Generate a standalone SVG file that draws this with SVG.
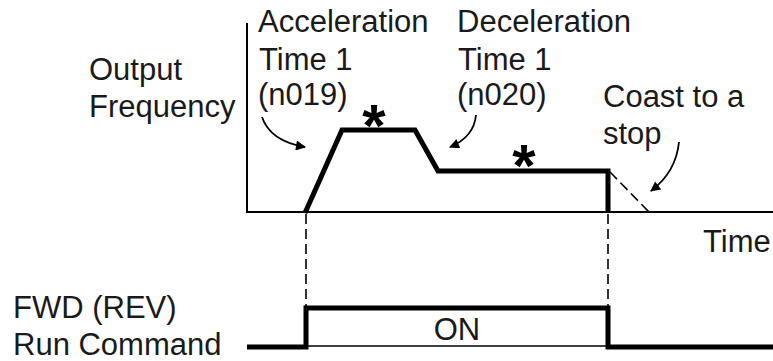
<svg xmlns="http://www.w3.org/2000/svg" width="773" height="361" viewBox="0 0 773 361">
  <style>
    .t { font-family: "Liberation Sans", Arial, Helvetica, sans-serif; font-size: 31px; fill: #1a1a1a; }
    .ast { font-family: "Liberation Sans", Arial, sans-serif; font-size: 60px; font-weight: bold; fill: #000; text-anchor: middle; }
    .axis { stroke: #000; stroke-width: 2; fill: none; }
    .wave { stroke: #000; stroke-width: 5; fill: none; stroke-linejoin: miter; }
    .thin { stroke: #000; stroke-width: 1.5; fill: none; }
    .dash { stroke: #000; stroke-width: 1.6; fill: none; stroke-dasharray: 10 5; }
    .arr { stroke: #000; stroke-width: 1.8; fill: none; marker-end: url(#ah); }
  </style>
  <defs>
    <marker id="ah" viewBox="0 0 10 10" refX="9" refY="5" markerWidth="13" markerHeight="10" markerUnits="userSpaceOnUse" orient="auto">
      <path d="M0,0 L10,5 L0,10 z" fill="#000"/>
    </marker>
  </defs>
  <rect width="773" height="361" fill="#fff"/>

  <g id="labels">
    <text class="t" x="89" y="80">Output</text>
    <text class="t" x="89" y="117">Frequency</text>
    <text class="t" x="258" y="32">Acceleration</text>
    <text class="t" x="259" y="70">Time 1</text>
    <text class="t" x="258" y="105">(n019)</text>
    <text class="t" x="457" y="32">Deceleration</text>
    <text class="t" x="458" y="70">Time 1</text>
    <text class="t" x="457" y="105">(n020)</text>
    <text class="t" x="603" y="107">Coast to a</text>
    <text class="t" x="603" y="144">stop</text>
    <text class="t" x="703" y="252">Time</text>
    <text class="t" x="13" y="318">FWD (REV)</text>
    <text class="t" x="13" y="355">Run Command</text>
    <text class="t" x="457" y="340" text-anchor="middle">ON</text>
    <text class="ast" x="374" y="146">*</text>
    <text class="ast" x="524" y="186">*</text>
  </g>

  <g id="axes">
    <line class="axis" x1="247" y1="23" x2="247" y2="213"/>
    <line class="axis" x1="246" y1="212" x2="773" y2="212"/>
  </g>

  <g id="frequency-wave">
    <polyline class="wave" points="305,213 342,130 415,130 438,171 608,171 608,213"/>
    <line class="dash" x1="610" y1="172" x2="649" y2="212"/>
  </g>

  <g id="run-command">
    <polyline class="wave" points="247,347 306,347 306,308 608,308 608,347 773,347"/>
    <line class="thin" x1="306" y1="346" x2="608" y2="346"/>
  </g>

  <g id="connectors">
    <line class="dash" x1="306" y1="214" x2="306" y2="306"/>
    <line class="dash" x1="608" y1="214" x2="608" y2="306"/>
    <path class="arr" d="M262,117 Q270,141 305,147"/>
    <path class="arr" d="M476,115 Q474,137 450,147"/>
    <path class="arr" d="M679,142 Q676,172 651,191"/>
  </g>
</svg>
